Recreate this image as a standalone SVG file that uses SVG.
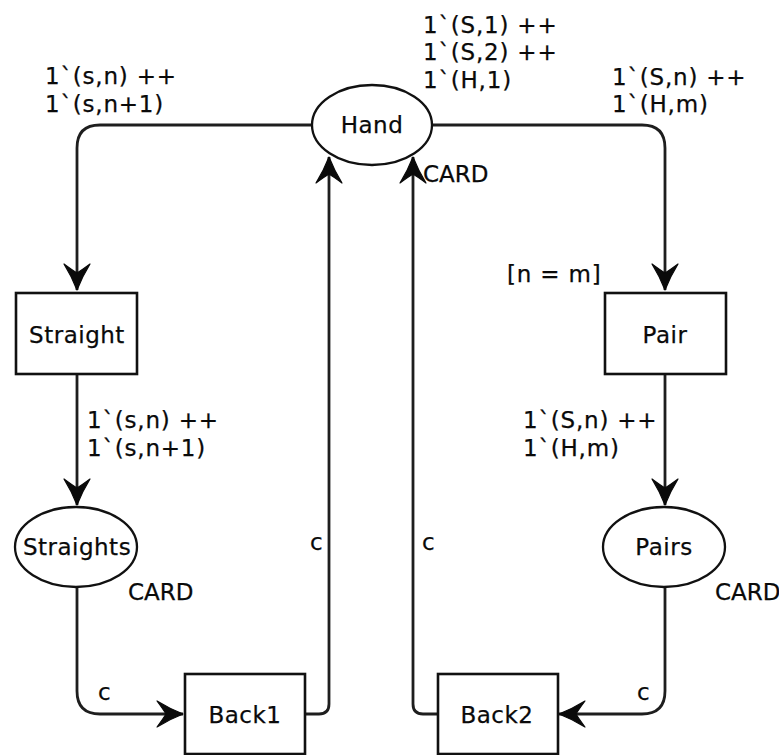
<svg xmlns="http://www.w3.org/2000/svg" width="779" height="755" viewBox="0 0 779 755">
  <style>
    .place { fill: #ffffff; stroke: #111111; stroke-width: 2.3; }
    .trans { fill: #ffffff; stroke: #111111; stroke-width: 2.6; }
    .arc { fill: none; stroke: #1e1e1e; stroke-width: 2.8; marker-end: url(#head); }
    text { font-family: "DejaVu Sans", Verdana, sans-serif; font-size: 23px; fill: #0a0a0a; stroke: #0a0a0a; stroke-width: 0.25px; }
    .insc { letter-spacing: 0.8px; }
    .name { text-anchor: middle; letter-spacing: 0.5px; }
  </style>
  <defs>
    <marker id="head" markerUnits="userSpaceOnUse" markerWidth="32" markerHeight="32" viewBox="-30 -15 32 30" refX="0" refY="0" orient="auto">
      <path d="M0,0 Q-13,-5 -26,-13 Q-20,-5 -17,0 Q-20,5 -26,13 Q-13,5 0,0 Z" fill="#0a0a0a" stroke="#0a0a0a" stroke-width="1.2" stroke-linejoin="round"/>
    </marker>
  </defs>

  <rect width="779" height="755" fill="#ffffff"/>

  <!-- arcs of the net -->
  <g id="connectors">
    <path class="arc" d="M312,125 H100 Q77,125 77,148 V290"/>
    <path class="arc" d="M432,125 H642 Q665,125 665,148 V290"/>
    <path class="arc" d="M77,374 V505"/>
    <path class="arc" d="M665,374 V505"/>
    <path class="arc" d="M77,587 V691 Q77,714 100,714 H183"/>
    <path class="arc" d="M665,587 V691 Q665,714 642,714 H559"/>
    <path class="arc" d="M305,714 H319 Q329,714 329,704 V157"/>
    <path class="arc" d="M438,714 H423 Q413,714 413,704 V157"/>
  </g>

  <!-- arc inscriptions and guard -->
  <g id="labels" class="insc">
    <text x="45" y="84">1`(s,n) ++</text>
    <text x="45" y="112">1`(s,n+1)</text>
    <text x="423" y="33">1`(S,1) ++</text>
    <text x="423" y="60">1`(S,2) ++</text>
    <text x="423" y="88">1`(H,1)</text>
    <text x="612" y="85">1`(S,n) ++</text>
    <text x="612" y="112">1`(H,m)</text>
    <text x="87" y="428">1`(s,n) ++</text>
    <text x="87" y="456">1`(s,n+1)</text>
    <text x="523" y="428">1`(S,n) ++</text>
    <text x="523" y="456">1`(H,m)</text>
    <text x="507" y="282">[n = m]</text>
    <text x="310" y="550">c</text>
    <text x="422" y="550">c</text>
    <text x="98" y="700">c</text>
    <text x="637" y="700">c</text>
  </g>

  <!-- places -->
  <g id="hand">
    <ellipse class="place" cx="372" cy="125" rx="60" ry="40"/>
    <text class="name" x="372" y="133">Hand</text>
    <text x="423" y="182">CARD</text>
  </g>
  <g id="straights">
    <ellipse class="place" cx="76" cy="547" rx="61" ry="40"/>
    <text class="name" x="77" y="555">Straights</text>
    <text x="128" y="600">CARD</text>
  </g>
  <g id="pairs">
    <ellipse class="place" cx="664" cy="547" rx="61" ry="40"/>
    <text class="name" x="664" y="555">Pairs</text>
    <text x="715" y="600">CARD</text>
  </g>

  <!-- transitions -->
  <g id="straight">
    <rect class="trans" x="16" y="293" width="121" height="81"/>
    <text class="name" x="77" y="343">Straight</text>
  </g>
  <g id="pair">
    <rect class="trans" x="605" y="293" width="121" height="81"/>
    <text class="name" x="665" y="343">Pair</text>
  </g>
  <g id="back1">
    <rect class="trans" x="185" y="674" width="120" height="80"/>
    <text class="name" x="245" y="723">Back1</text>
  </g>
  <g id="back2">
    <rect class="trans" x="438" y="674" width="120" height="80"/>
    <text class="name" x="497" y="723">Back2</text>
  </g>
</svg>
